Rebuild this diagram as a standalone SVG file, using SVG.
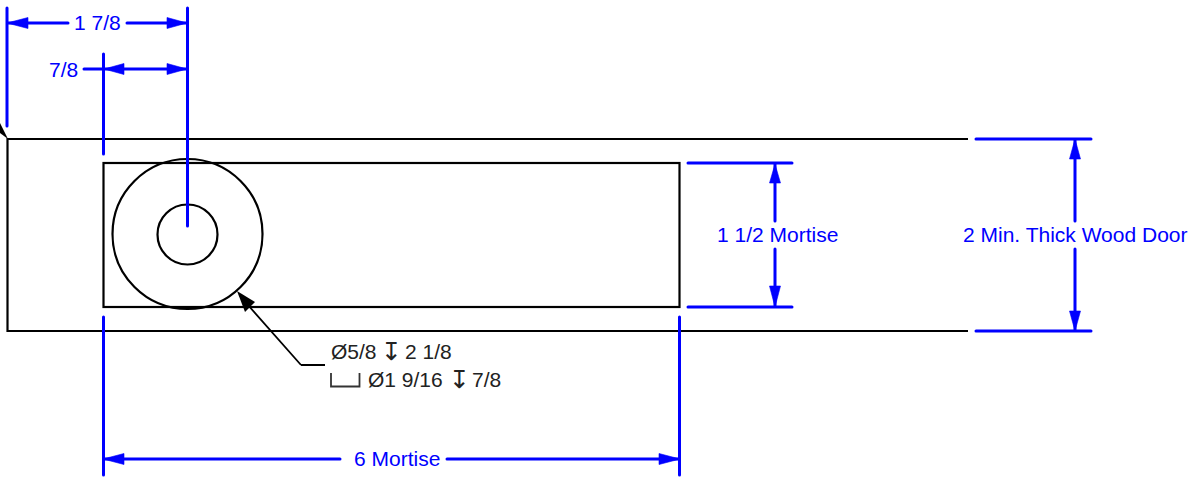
<svg xmlns="http://www.w3.org/2000/svg" width="1194" height="483" viewBox="0 0 1194 483">
<style>
.o{fill:none;stroke:#000;stroke-width:2.200}
.d{fill:none;stroke:#0000ff;stroke-width:3;stroke-linecap:round}
.a{fill:#0000ff;stroke:#0000ff;stroke-width:.6}
.t{font-family:"Liberation Sans",Arial,sans-serif;font-size:21px}
.b{fill:#0000ff}
.k{fill:#222}
.s{font-family:"DejaVu Sans",sans-serif;font-size:25px}
</style>
<rect width="1194" height="483" fill="#fff"/>
<g id="door">
<path class="o" d="M968 139H7.500V331H968"/>
<path d="M0 123L8 139L0 133Z" fill="#000"/>
</g>
<g id="mortise"><rect class="o" x="103.500" y="163" width="576" height="144"/></g>
<g id="bore-outer"><circle class="o" cx="187.500" cy="234" r="75" fill="#fff"/></g>
<g id="bore-inner"><circle class="o" cx="187.500" cy="234.500" r="30" fill="#fff"/></g>
<g id="connectors">
<path class="d" d="M7 8V126M187.500 8V226M103.500 54V154M103.500 317V475M679.500 317V475"/>
<path class="d" d="M8 23H68M127 23H186M84 69H186"/>
<path class="d" d="M688 163H792M688 307H792M775 164V221M775 249V306"/>
<path class="d" d="M976 139H1091M976 331H1091M1075 140V221M1075 249V330"/>
<path class="d" d="M104 459H340M447 459H679"/>
<path class="a" d="M7 23L28 17.500V28.500ZM187 23L167 17.500V28.500ZM104 69L124 63.500V74.500ZM187 69L167 63.500V74.500Z"/>
<path class="a" d="M775 164L769.500 183H780.500ZM775 307L769.500 286H780.500ZM1075 139L1069.500 159H1080.500ZM1075 331L1069.500 311H1080.500Z"/>
<path class="a" d="M103 459L124 453.500V464.500ZM680 459L659 453.500V464.500Z"/>
<path d="M301 365H325M301 365L240 296" fill="none" stroke="#000" stroke-width="1.800"/>
<path d="M237 291L255 302L245 312Z" fill="#000"/>
<path d="M331 373V386.500H359.500V373" fill="none" stroke="#333" stroke-width="1.800"/>
</g>
<g id="labels">
<text class="t b" x="74" y="30">1 7/8</text>
<text class="t b" x="49" y="77">7/8</text>
<text class="t b" x="717" y="242">1 1/2 Mortise</text>
<text class="t b" x="963" y="242">2 Min. Thick Wood Door</text>
<text class="t b" x="354" y="466">6 Mortise</text>
<text class="t k" x="331" y="359">Ø5/8</text>
<text class="s k" x="381" y="360">↧</text>
<text class="t k" x="405" y="359">2 1/8</text>
<text class="t k" x="368" y="387">Ø1 9/16</text>
<text class="s k" x="449" y="388">↧</text>
<text class="t k" x="472" y="387">7/8</text>
</g>
</svg>
